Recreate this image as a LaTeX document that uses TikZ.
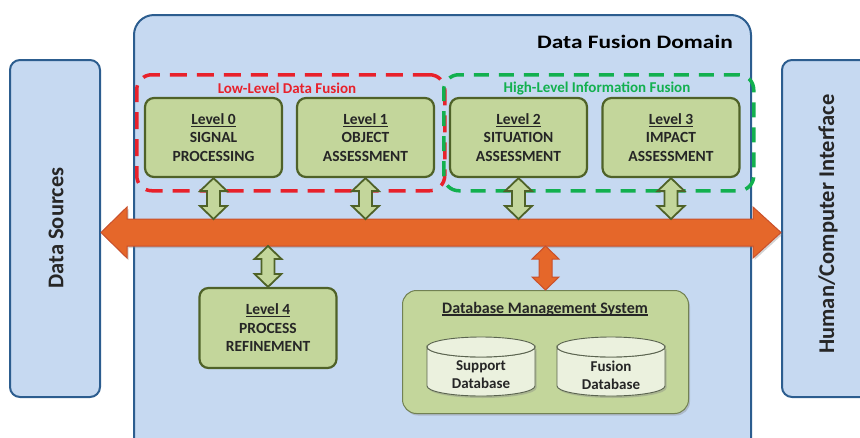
\documentclass[tikz,border=0pt]{standalone}
\usepackage{fontspec}
\setmainfont{Carlito}
\usetikzlibrary{calc,shadows}

\definecolor{domainfill}{HTML}{C6D9F1}
\definecolor{domainline}{HTML}{2C5D8F}
\definecolor{levelfill}{HTML}{C3D69B}
\definecolor{levelline}{HTML}{4F6228}
\definecolor{cylfill}{HTML}{EBF1DE}
\definecolor{cylline}{HTML}{5B6450}
\definecolor{busfill}{HTML}{E5672A}
\definecolor{busline}{HTML}{C9502B}
\definecolor{lowred}{HTML}{E8212B}
\definecolor{highgreen}{HTML}{12B04F}
\definecolor{txt}{HTML}{262626}

% thick underline for headings
\newcommand\uline[1]{\setbox0\hbox{#1}\rlap{\rule[-2.4pt]{\wd0}{1.2pt}}\box0}

% vertical block double arrow between two points on one vertical line
\newcommand\vdblarrow[3][]{%
  \path[#1] let \p1=#2, \p2=#3 in
    (\x1,\y1) -- (\x1+13.5pt,\y1-13pt) -- (\x1+6.5pt,\y1-13pt)
    -- (\x1+6.5pt,\y2+13pt) -- (\x1+13.5pt,\y2+13pt) -- (\x1,\y2)
    -- (\x1-13.5pt,\y2+13pt) -- (\x1-6.5pt,\y2+13pt)
    -- (\x1-6.5pt,\y1-13pt) -- (\x1-13.5pt,\y1-13pt) -- cycle;}

% horizontal block double arrow (the bus)
\newcommand\hdblarrow[3][]{%
  \path[#1] let \p1=#2, \p2=#3 in
    (\x1,\y1) -- (\x1+26pt,\y1+25.5pt) -- (\x1+26pt,\y1+13.5pt)
    -- (\x2-28pt,\y1+13.5pt) -- (\x2-28pt,\y1+25.5pt) -- (\x2,\y1)
    -- (\x2-28pt,\y1-25.5pt) -- (\x2-28pt,\y1-13.5pt)
    -- (\x1+26pt,\y1-13.5pt) -- (\x1+26pt,\y1-25.5pt) -- cycle;}

% database cylinder centred at x=#1, top ellipse at y=#2, bottom at y=#3
\newcommand\dbcyl[3]{%
  \path[cylbody] (#1-54,#2) -- (#1-54,#3)
    arc[start angle=180,end angle=360,x radius=54pt,y radius=10pt]
    -- (#1+54,#2) arc[start angle=0,end angle=-180,x radius=54pt,y radius=10pt] -- cycle;
  \path[cyltop] (#1,#2) ellipse[x radius=54pt,y radius=10pt];}

\tikzset{
  sidebox/.style={draw=domainline, fill=domainfill, line width=2pt,
    rounded corners=10pt, inner sep=0pt},
  domainbox/.style={draw=domainline, fill=domainfill, line width=2pt,
    rounded corners=20pt, inner sep=0pt},
  grouplow/.style={draw=lowred, line width=3.5pt, dash pattern=on 17pt off 10pt,
    rounded corners=15pt, inner sep=0pt},
  grouphigh/.style={draw=highgreen, line width=3.5pt, dash pattern=on 15pt off 10pt,
    rounded corners=15pt, inner sep=0pt},
  grouplabel/.style={inner sep=0pt, font=\fontsize{15}{17}\selectfont\bfseries},
  levelbox/.style={draw=levelline, fill=levelfill, line width=2.2pt,
    rounded corners=9pt, minimum width=137pt, minimum height=79pt,
    inner sep=0pt, align=center, text=txt,
    font=\fontsize{15.5}{18.5}\selectfont\bfseries},
  dbmsbox/.style={draw=levelline!80, fill=levelfill, line width=1pt,
    rounded corners=14pt, inner sep=0pt,
    drop shadow={shadow xshift=1.5pt, shadow yshift=-2pt, opacity=.35}},
  cylbody/.style={fill=cylfill, draw=cylline, line width=0.9pt,
    drop shadow={shadow xshift=1.5pt, shadow yshift=-2pt, opacity=.35}},
  cyltop/.style={fill=cylfill, draw=cylline, line width=0.9pt},
  cyltext/.style={align=center, text=txt, inner sep=0pt,
    font=\fontsize{15}{18}\selectfont\bfseries},
  greenarr/.style={fill=levelfill, draw=levelline, line width=1.8pt, line join=miter},
  orangearr/.style={fill=busfill, draw=busline, line width=1pt, line join=miter},
  busarr/.style={fill=busfill, draw=busline, line width=1pt, line join=miter,
    drop shadow={shadow xshift=1.5pt, shadow yshift=-2pt, opacity=.35}},
  sidetext/.style={rotate=90, text=txt, inner sep=0pt,
    font=\fontsize{22.5}{26}\selectfont\bfseries},
}

\begin{document}
\begin{tikzpicture}[x=1pt,y=-1pt]
\useasboundingbox (0,0) rectangle (860,437);
\clip (0,0) rectangle (860,437);

% outer domain
\node[domainbox, minimum width=617pt, minimum height=446pt, anchor=north west] (dom) at (133,14) {};
\node[anchor=east, text=black, inner sep=0pt, xscale=1.23,
  font=\fontsize{19}{21}\selectfont\bfseries] (title) at (733,42) {Data Fusion Domain};

% side blocks
\node[sidebox, minimum width=90pt, minimum height=337pt] (ds) at (55,228.5) {};
\node[sidetext] (dstext) at (56,228) {Data Sources};
\node[sidebox, minimum width=98pt, minimum height=337pt] (hci) at (831,228.5) {};
\node[sidetext] (hcitext) at (828,224) {Human/Computer Interface};

% fusion groups
\node[grouplow, minimum width=308pt, minimum height=116pt, anchor=north west] (low) at (135,73) {};
\node[grouplabel, text=lowred] (lowlabel) at (287,88) {Low-Level Data Fusion};
\node[grouphigh, minimum width=310pt, minimum height=116pt, anchor=north west] (high) at (442,73) {};
\node[grouplabel, text=highgreen] (highlabel) at (597,88) {High-Level Information Fusion};

% levels
\node[levelbox] (l0) at (213.5,137.5) {\uline{Level 0}\\SIGNAL\\PROCESSING};
\node[levelbox] (l1) at (365.5,137.5) {\uline{Level 1}\\OBJECT\\ASSESSMENT};
\node[levelbox] (l2) at (518.5,137.5) {\uline{Level 2}\\SITUATION\\ASSESSMENT};
\node[levelbox] (l3) at (671,137.5) {\uline{Level 3}\\IMPACT\\ASSESSMENT};
\node[levelbox, minimum height=80pt] (l4) at (268,328) {\uline{Level 4}\\PROCESS\\REFINEMENT};

% database management system
\node[dbmsbox, minimum width=286pt, minimum height=123pt, anchor=north west] (dbms) at (402,290) {};
\node[text=txt, inner sep=0pt, font=\fontsize{16}{18}\selectfont\bfseries]
  (dbmstitle) at (545,309) {\uline{Database Management System}};
\dbcyl{481}{347}{386}
\node[cyltext] (sdb) at (481,375) {Support\\Database};
\dbcyl{611}{347}{386}
\node[cyltext] (fdb) at (611,375) {Fusion\\Database};

% bus and its connections
\coordinate (busC) at (440,232.5);
\coordinate (busN) at (440,219);
\coordinate (busS) at (440,246);
\hdblarrow[busarr]{(ds.east |- busC)}{(hci.west |- busC)}

\vdblarrow[greenarr]{(l0.south)}{(l0.south |- busN)}
\vdblarrow[greenarr]{(l1.south)}{(l1.south |- busN)}
\vdblarrow[greenarr]{(l2.south)}{(l2.south |- busN)}
\vdblarrow[greenarr]{(l3.south)}{(l3.south |- busN)}
\vdblarrow[greenarr]{(l4.north |- busS)}{(l4.north)}
\vdblarrow[orangearr]{(dbms.north |- busS)}{(dbms.north)}
\end{tikzpicture}
\end{document}
